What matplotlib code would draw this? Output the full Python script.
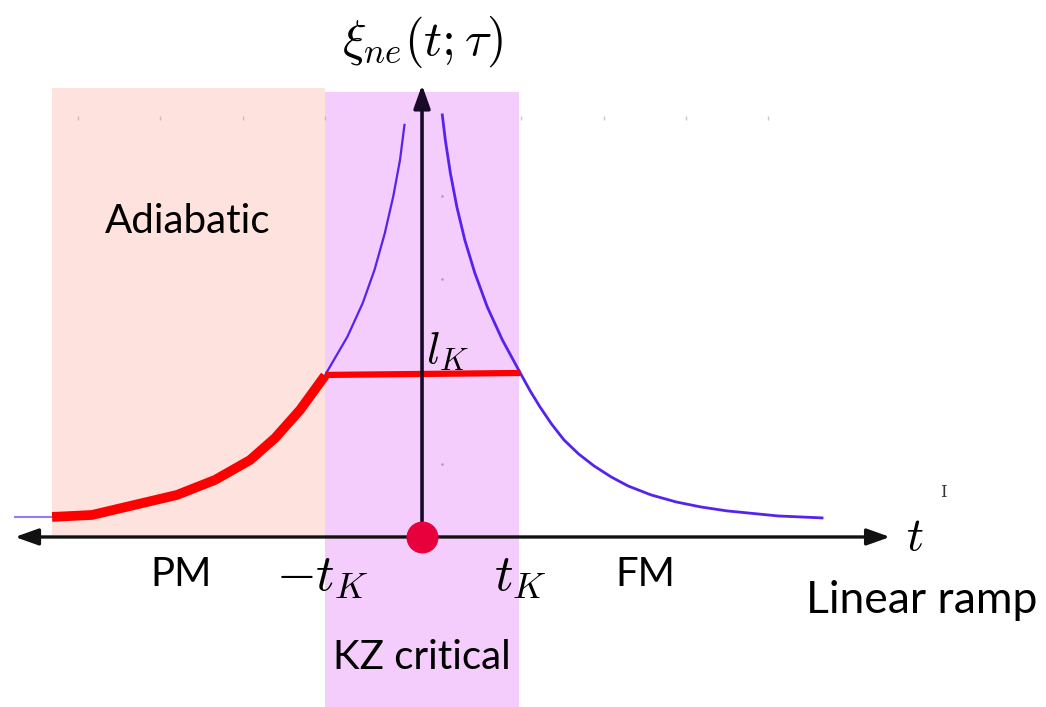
import numpy as np
import matplotlib.pyplot as plt

plt.rcParams['mathtext.fontset'] = 'cm'
plt.rcParams['font.family'] = ['Lato', 'DejaVu Sans']

# correlation length curves (t in units of t_K, xi in units of l_K)
t_right = [0.209, 0.240, 0.292, 0.359, 0.441, 0.544, 0.673, 0.828, 1.013, 1.113, 1.216, 1.335,
           1.464, 1.613, 1.773, 1.948, 2.124, 2.361, 2.619, 2.876, 3.144, 3.670, 4.124]
xi_right = [2.589, 2.436, 2.233, 2.025, 1.822, 1.620, 1.411, 1.209, 1.006, 0.898, 0.798, 0.693,
            0.595, 0.510, 0.436, 0.369, 0.313, 0.258, 0.215, 0.184, 0.160, 0.129, 0.117]

t_left = [-0.181, -0.227, -0.297, -0.384, -0.490, -0.612, -0.769, -0.979, -1.0]
xi_left = [2.528, 2.313, 2.088, 1.863, 1.638, 1.434, 1.229, 1.014, 0.99]

t_tail = [-4.196, -3.814]
xi_tail = [0.123, 0.123]

# adiabatic (equilibrium) part followed by frozen part
t_adia = [-3.814, -3.402, -2.526, -2.134, -1.773, -1.515, -1.258, -1.0]
xi_adia = [0.123, 0.135, 0.258, 0.350, 0.472, 0.607, 0.779, 0.99]
t_frozen = [-1.0, 1.013]
xi_frozen = [0.994, 1.006]

tK = 1.0
t_adia_start = -3.814

fig = plt.figure(figsize=(10.46, 7.07), dpi=100)
ax = fig.add_axes([0, 0, 1, 1])
ax.set_xlim(-4.351, 6.433)
ax.set_ylim(-1.043, 3.294)
ax.axis('off')

# regions
ax.fill_between([t_adia_start, -tK], 0.01, 2.755, color='#fde2de', lw=0, zorder=0)
ax.fill_between([-tK, tK], -1.1, 2.73, color='#f4cdfd', lw=0, zorder=0)

# faint dots left over in the slide
dots_t = [-3.546, -2.701, -1.845, -1.0, 1.021, 1.876, 2.722, 3.567]
ax.plot(dots_t, [2.571] * len(dots_t), ls='none', marker='|', ms=3, color='#b0a0a8', alpha=0.6, zorder=1)
ax.plot([0.21, 0.21, 0.21], [2.09, 1.58, 0.45], ls='none', marker='.', ms=2, color='#9090b0',
        alpha=0.6, zorder=1)

blue = '#5522ee'
ax.plot(t_right, xi_right, color=blue, lw=2.0, zorder=2)
ax.plot(t_left, xi_left, color=blue, lw=1.6, zorder=2)
ax.plot(t_tail, xi_tail, color=blue, lw=1.5, alpha=0.6, zorder=2)

ax.plot(t_adia, xi_adia, color='#ff0000', lw=7, solid_capstyle='butt', solid_joinstyle='round', zorder=3)
ax.plot(t_frozen, xi_frozen, color='#ff0000', lw=4.5, solid_capstyle='butt', zorder=3)

# axes with arrows
ax.annotate('', xy=(4.825, 0), xytext=(-4.196, 0),
            arrowprops=dict(arrowstyle='<|-|>,head_length=0.7,head_width=0.25', lw=2.4,
                            color='#111111', shrinkA=0, shrinkB=0, mutation_scale=20), zorder=4)
ax.annotate('', xy=(0, 2.773), xytext=(0, 0),
            arrowprops=dict(arrowstyle='-|>,head_length=0.7,head_width=0.25', lw=2.6,
                            color='#1a0a2a', shrinkA=0, shrinkB=0, mutation_scale=20), zorder=4)
ax.plot([0], [0], 'o', ms=22, color='#e8003c', zorder=5)

# labels
ax.text(0, 3.037, r'$\xi_{ne}(t;\tau)$', fontsize=36, ha='center', va='center')
ax.text(5.08, 0.0, r'$t$', fontsize=34, ha='center', va='center')
ax.text(0.258, 1.135, r'$l_K$', fontsize=32, ha='center', va='center')
ax.text(-1.031, -0.25, r'$-t_K$', fontsize=37, ha='center', va='center')
ax.text(1.01, -0.25, r'$t_K$', fontsize=37, ha='center', va='center')

ax.text(-2.412, 1.933, 'Adiabatic', fontsize=29, ha='center', va='center')
ax.text(-2.485, -0.233, 'PM', fontsize=29, ha='center', va='center')
ax.text(2.299, -0.233, 'FM', fontsize=29, ha='center', va='center')
ax.text(5.155, -0.387, 'Linear ramp', fontsize=32, ha='center', va='center')
ax.text(0.0, -0.742, 'KZ critical', fontsize=29, ha='center', va='center')
ax.text(5.371, 0.27, 'I', fontsize=12, family='DejaVu Serif', color='#333333', ha='center', va='center')

fig.savefig('out.png', dpi=100)
